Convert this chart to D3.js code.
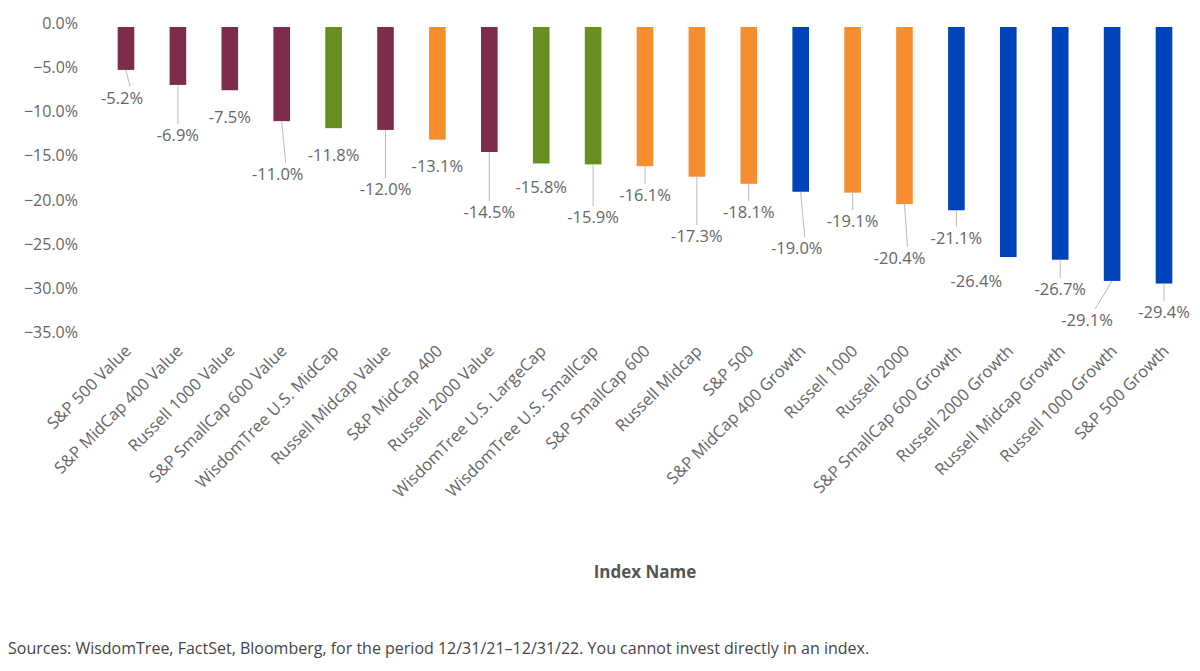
<!DOCTYPE html><html><head><meta charset="utf-8"><script src="https://cdn.jsdelivr.net/npm/d3@7"></script>
<style>body{margin:0;background:#fff}text{font-family:"Source Sans Pro","Open Sans","Liberation Sans",sans-serif}</style></head><body>
<svg id="c" width="1200" height="671"></svg>
<script>
const categories=["S&P 500 Value","S&P MidCap 400 Value","Russell 1000 Value","S&P SmallCap 600 Value","WisdomTree U.S. MidCap","Russell Midcap Value","S&P MidCap 400","Russell 2000 Value","WisdomTree U.S. LargeCap","WisdomTree U.S. SmallCap","S&P SmallCap 600","Russell Midcap","S&P 500","S&P MidCap 400 Growth","Russell 1000","Russell 2000","S&P SmallCap 600 Growth","Russell 2000 Growth","Russell Midcap Growth","Russell 1000 Growth","S&P 500 Growth"];
const values=[-5.2,-6.9,-7.5,-11.0,-11.8,-12.0,-13.1,-14.5,-15.8,-15.9,-16.1,-17.3,-18.1,-19.0,-19.1,-20.4,-21.1,-26.4,-26.7,-29.1,-29.4];
const groups=["value","value","value","value","wt","value","blend","value","wt","wt","blend","blend","blend","growth","blend","blend","growth","growth","growth","growth","growth"];
const yTicks=[0,-5,-10,-15,-20,-25,-30,-35];
// label layout (pixel y of label centre, x shift) – styling only
const labelY=[98,135,117,174,155,189,166,212,187,217,195,236,212,248,221,258,238,281,289,320,312];
const labelDx=[-4,0,0,-4,0,0,0,0,0,0,0,0,0,-4,0,-5,0,-32,0,-25,0];
const colors={value:"#7e2c4b",wt:"#678f1f",blend:"#f68d2e",growth:"#0044bb"};
const svg=d3.select("#c");
const x=d3.scaleBand().domain(categories).range([82.4,1207.6]).padding(0.68);
const y=d3.scaleLinear().domain([-35,0]).range([333,24]);
const g=svg.append("g");
g.selectAll("text.yt").data(yTicks).join("text").attr("x",78).attr("y",d=>y(d)+5).attr("text-anchor","end").attr("font-size",16).attr("fill","#666").text(d=>d3.format(".1f")(d)+"%");
g.selectAll("rect").data(values).join("rect").attr("x",(d,i)=>x(categories[i])).attr("width",x.bandwidth()).attr("y",y(0)+3).attr("height",d=>y(d)-y(0)-3).attr("fill",(d,i)=>colors[groups[i]]);
values.forEach((v,i)=>{const cx=x(categories[i])+x.bandwidth()/2, ly=labelY[i], lx=cx+labelDx[i];
 if(ly-12-y(v)>15) g.append("line").attr("x1",cx).attr("y1",y(v)).attr("x2",lx+(labelDx[i]?8:0)).attr("y2",ly-11).attr("stroke","#bbb").attr("stroke-width",1);
 g.append("text").attr("x",lx).attr("y",ly+6).attr("text-anchor","middle").attr("font-size",16.5).attr("fill","#666").text(v.toFixed(1)+"%");});
g.selectAll("text.xl").data(categories).join("text").attr("font-size",16.5).attr("fill","#666").attr("text-anchor","end")
 .attr("transform",d=>`translate(${x(d)+x.bandwidth()/2+6},${352}) rotate(-45)`).text(d=>d);
svg.append("text").attr("x",645).attr("y",578).attr("text-anchor","middle").attr("font-size",17).attr("font-weight","bold").attr("fill","#555").text("Index Name");
svg.append("text").attr("x",8).attr("y",654).attr("font-size",16).attr("fill","#444").text("Sources: WisdomTree, FactSet, Bloomberg, for the period 12/31/21–12/31/22. You cannot invest directly in an index.");
</script></body></html>
